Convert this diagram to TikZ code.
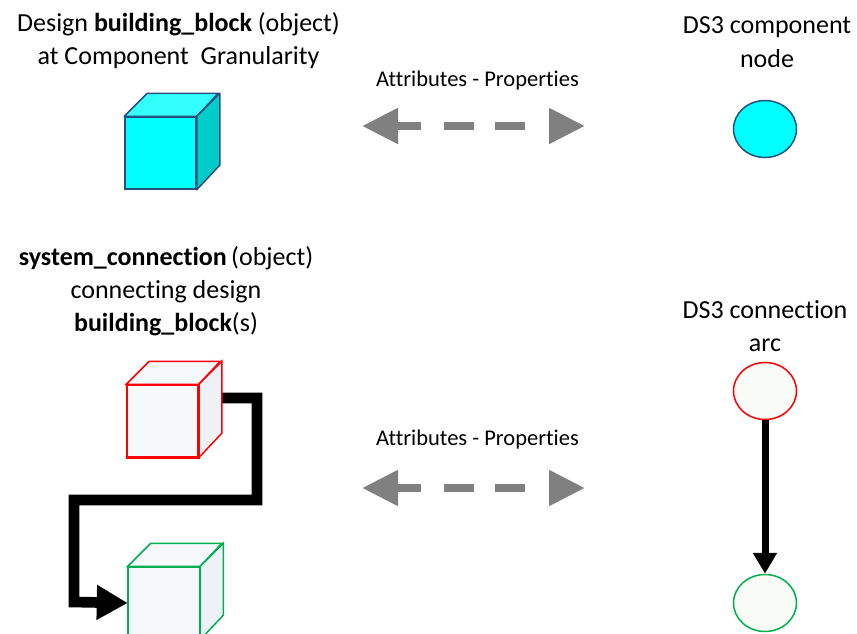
\documentclass[tikz,border=0pt]{standalone}
\usepackage{fontspec}
\setmainfont{Carlito}[Ligatures=NoCommon]
\usetikzlibrary{arrows.meta,calc,shapes.geometric}

\definecolor{cubeedge}{RGB}{37,82,125}
\definecolor{cyanfront}{RGB}{0,255,255}
\definecolor{cyantop}{RGB}{51,255,255}
\definecolor{cyanside}{RGB}{0,204,204}
\definecolor{paleface}{RGB}{246,249,252}
\definecolor{paleside}{RGB}{238,241,245}
\definecolor{paleoval}{RGB}{248,251,246}
\definecolor{redline}{RGB}{255,0,0}
\definecolor{greenline}{RGB}{0,176,80}
\definecolor{arrowgray}{RGB}{128,128,128}

\tikzset{
  % multi-line labels: the base anchor sits on the last line's baseline
  label/.style={font=\fontsize{26}{33}\selectfont, align=center, inner sep=0pt, anchor=base},
  attr/.style={font=\fontsize{22.5}{26}\selectfont, inner sep=0pt, anchor=base},
  cubefront/.style={draw, line width=1.5pt, minimum width=71pt, minimum height=72pt, inner sep=0pt},
  oval/.style={draw, ellipse, line width=1.5pt, minimum width=63pt, minimum height=57pt, inner sep=0pt},
  relation/.style={arrowgray, line width=8pt, dash pattern=on 25pt off 23pt on 30pt off 21pt on 30pt off 40pt,
    {Triangle[length=36pt,width=34pt]}-{Triangle[length=36pt,width=34pt]}},
  link/.style={line width=10.7pt, miter limit=10, -{Triangle[length=31pt,width=33pt]}},
  arc/.style={line width=7pt, -{Triangle[length=21pt,width=23pt]}}
}

\begin{document}
\begin{tikzpicture}[x=1pt,y=-1pt]
\useasboundingbox (0,0) rectangle (857,634);

% ---- top row: building block and component node ----
\node[label] (t1) at (178.5,65) {Design \textbf{building\_block} (object)\\at Component\ \ Granularity};
\node[label] (t2) at (767,67) {DS3 component\\node};
\node[attr] (a1) at (477.5,86) {Attributes - Properties};

\node[cubefront, fill=cyanfront, draw=cubeedge] (bb) at (160.5,153) {};
\filldraw[fill=cyantop, draw=cubeedge, line width=1.5pt, line join=round]
  (bb.north west) -- ++(23,-23) -- ++(71,0) -- (bb.north east) -- cycle;
\filldraw[fill=cyanside, draw=cubeedge, line width=1.5pt, line join=round]
  (bb.north east) -- ++(23,-23) -- ++(0,72) -- (bb.south east) -- cycle;

\node[oval, fill=cyanfront, draw=cubeedge] (cn) at (765,129) {};

\coordinate (l1) at (362,126);
\coordinate (r1) at (585,126);
\draw[relation] (l1) -- (r1);

% ---- bottom row: system connection and connection arc ----
\node[label] (t3) at (166,331) {\textbf{system\_connection}\,(object)\\connecting design\\\textbf{building\_block}(s)};
\node[label] (t4) at (765,351) {DS3 connection\\arc};
\node[attr] (a2) at (477.5,445) {Attributes - Properties};

\node[cubefront, fill=paleface, draw=redline] (rc) at (162.5,421) {};
\node[cubefront, fill=paleface, draw=greenline] (gc) at (164,603) {};
\coordinate (rcout) at (222,398);

% thick connector drawn first so the cubes sit on top of it
\draw[link] (rcout) -- (257,398) -- (257,500) -- (74,500) -- (74,602) -- (gc.west);

\foreach \c/\col in {rc/redline, gc/greenline}{
  \filldraw[fill=paleface, draw=\col, line width=1.5pt]
    (\c.north west) -- ++(23,-23) -- ++(71,0) -- (\c.north east) -- cycle;
  \filldraw[fill=paleside, draw=\col, line width=1.5pt]
    (\c.north east) -- ++(23,-23) -- ++(0,72) -- (\c.south east) -- cycle;
  \draw[draw=\col, line width=1.5pt] (\c.north west) rectangle (\c.south east);
}

\node[oval, fill=paleoval, draw=redline] (ra) at (765,391) {};
\node[oval, fill=paleoval, draw=greenline] (ga) at (765,603) {};
\draw[arc] (ra.south) -- (ga.north);

\coordinate (l2) at (362,488);
\coordinate (r2) at (585,488);
\draw[relation] (l2) -- (r2);
\end{tikzpicture}
\end{document}
